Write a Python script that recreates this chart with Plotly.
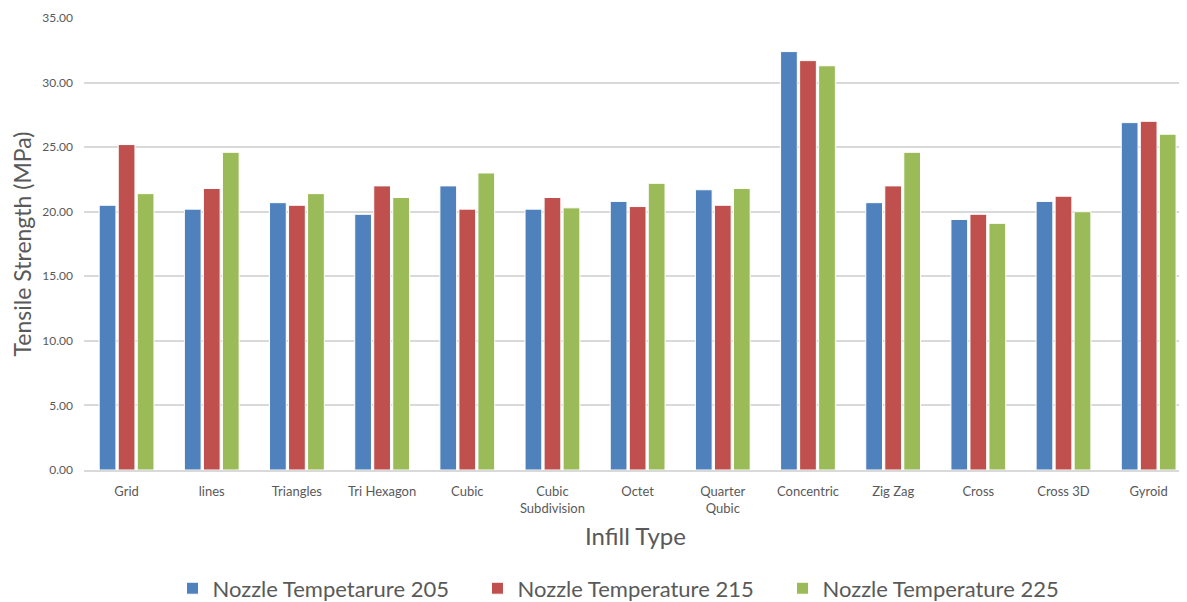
import plotly.graph_objects as go

categories = ["Grid", "lines", "Triangles", "Tri Hexagon", "Cubic", "Cubic<br>Subdivision",
              "Octet", "Quarter<br>Qubic", "Concentric", "Zig Zag", "Cross", "Cross 3D", "Gyroid"]
t205 = [20.5, 20.2, 20.7, 19.8, 22.0, 20.2, 20.8, 21.7, 32.4, 20.7, 19.4, 20.8, 26.9]
t215 = [25.2, 21.8, 20.5, 22.0, 20.2, 21.1, 20.4, 20.5, 31.7, 22.0, 19.8, 21.2, 27.0]
t225 = [21.4, 24.6, 21.4, 21.1, 23.0, 20.3, 22.2, 21.8, 31.3, 24.6, 19.1, 20.0, 26.0]
names = ["Nozzle Tempetarure 205", "Nozzle Temperature 215", "Nozzle Temperature 225"]
colors = ["#4F81BD", "#C0504D", "#9BBB59"]

FONT = "Lato"
fig = go.Figure()
for name, vals, col in zip(names, [t205, t215, t225], colors):
    fig.add_trace(go.Bar(x=categories, y=vals, name=name,
                         marker=dict(color=col, line=dict(color="white", width=1))))

fig.update_layout(
    width=1179, height=594,
    margin=dict(l=76, r=0, t=10, b=132, autoexpand=False),
    paper_bgcolor="white", plot_bgcolor="white",
    barmode="group", bargap=0.33, bargroupgap=0.12,
    font=dict(family=FONT, color="#595959"),
    showlegend=True,
    legend=dict(orientation="h", x=0.495, xanchor="center", y=-0.262, yanchor="middle",
                font=dict(size=22, color="#595959", family=FONT),
                entrywidth=260, entrywidthmode="pixels", itemwidth=30),
    xaxis=dict(range=[-0.5, 12.45], showgrid=False, showline=True, linecolor="#D9D9D9",
               linewidth=1.5, ticks="", tickfont=dict(size=13, color="#595959", family=FONT),
               automargin=False,
               title=dict(text="Infill Type", font=dict(size=24, color="#595959", family=FONT), standoff=13),
               ticklabelstandoff=9),
    yaxis=dict(range=[0, 35], dtick=5, tickformat=".2f", showgrid=True, gridcolor="#D9D9D9",
               gridwidth=1.5, zeroline=False, showline=False, ticks="", automargin=False,
               tickfont=dict(size=12, color="#595959", family=FONT), ticklabelstandoff=10,
               title=dict(text="Tensile Strength (MPa)", font=dict(size=23, color="#595959", family=FONT), standoff=6)),
)
fig.write_html("out.html")
